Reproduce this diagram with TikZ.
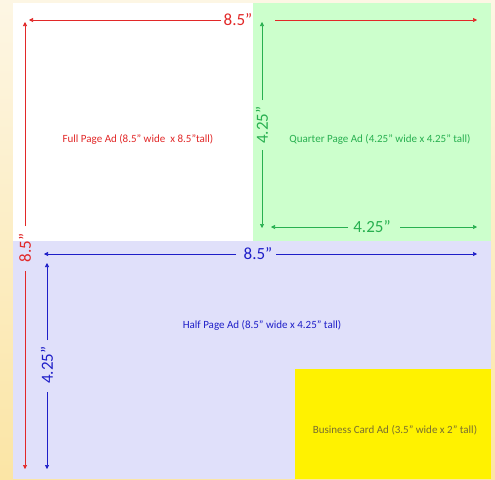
\documentclass[tikz,border=0pt]{standalone}
\usepackage{fontspec}
\setmainfont{Carlito}
\usetikzlibrary{arrows.meta}
\definecolor{cream1}{RGB}{253,246,228}
\definecolor{cream2}{RGB}{251,229,165}
\definecolor{qgreen}{RGB}{204,255,204}
\definecolor{hlav}{RGB}{224,224,250}
\definecolor{dred}{RGB}{226,40,40}
\definecolor{dgreen}{RGB}{40,176,80}
\definecolor{dblue}{RGB}{30,30,200}
\definecolor{bctext}{RGB}{120,110,50}
\tikzset{
  dim/.style={line width=0.6pt,-{Triangle[length=4pt,width=4pt]}},
  dimlabel/.style={inner sep=0pt,font=\fontsize{17}{17}\selectfont},
  adlabel/.style={inner sep=0pt,font=\fontsize{11}{11}\selectfont},
}
\begin{document}
\begin{tikzpicture}[x=1pt,y=-1pt]
\useasboundingbox (0,0) rectangle (495,479);
% background
\shade[top color=cream1,bottom color=cream2] (0,0) rectangle (495,479);
% areas
\fill[white] (13,3) rectangle (253,241);
\fill[qgreen] (253,3) rectangle (491,241);
\fill[hlav] (13,241) rectangle (491,479);
\fill[yellow] (295,369) rectangle (491,479);
% ad labels
\node[adlabel,text=dred] (full) at (138,139) {Full Page Ad (8.5” wide \ x 8.5”tall)};
\node[adlabel,text=dgreen] (quarter) at (380,139) {Quarter Page Ad (4.25” wide x 4.25” tall)};
\node[adlabel,text=dblue] (half) at (262,325) {Half Page Ad (8.5” wide x 4.25” tall)};
\node[adlabel,text=bctext] (bc) at (395,430) {Business Card Ad (3.5” wide x 2” tall)};
% red dimensions
\node[dimlabel,text=dred] (rtop) at (238,20) {8.5”};
\coordinate (rtopL) at (221,20); \coordinate (rtopLtip) at (29,20);
\coordinate (rtopR) at (275,20); \coordinate (rtopRtip) at (477,20);
\draw[dim,dred] (rtopL) -- (rtopLtip);
\draw[dim,dred] (rtopR) -- (rtopRtip);
\node[dimlabel,text=dred,rotate=90] (rleft) at (25,248) {8.5”};
\coordinate (rleftT) at (25,226); \coordinate (rleftTtip) at (25,22);
\coordinate (rleftB) at (25,271); \coordinate (rleftBtip) at (25,469);
\draw[dim,dred] (rleftT) -- (rleftTtip);
\draw[dim,dred] (rleftB) -- (rleftBtip);
% green dimensions
\node[dimlabel,text=dgreen,rotate=90] (gv) at (262,125) {4.25”};
\coordinate (gvT) at (262,100); \coordinate (gvTtip) at (262,22);
\coordinate (gvB) at (262,150); \coordinate (gvBtip) at (262,228);
\draw[dim,dgreen] (gvT) -- (gvTtip);
\draw[dim,dgreen] (gvB) -- (gvBtip);
\node[dimlabel,text=dgreen] (gh) at (372,227) {4.25”};
\coordinate (ghL) at (348,227); \coordinate (ghLtip) at (271,227);
\coordinate (ghR) at (400,227); \coordinate (ghRtip) at (477,227);
\draw[dim,dgreen] (ghL) -- (ghLtip);
\draw[dim,dgreen] (ghR) -- (ghRtip);
% blue dimensions
\node[dimlabel,text=dblue] (bh) at (258,254) {8.5”};
\coordinate (bhL) at (236,254); \coordinate (bhLtip) at (44,254);
\coordinate (bhR) at (276,254); \coordinate (bhRtip) at (477,254);
\draw[dim,dblue] (bhL) -- (bhLtip);
\draw[dim,dblue] (bhR) -- (bhRtip);
\node[dimlabel,text=dblue,rotate=90] (bv) at (47,365) {4.25”};
\coordinate (bvT) at (47,340); \coordinate (bvTtip) at (47,263);
\coordinate (bvB) at (47,392); \coordinate (bvBtip) at (47,469);
\draw[dim,dblue] (bvT) -- (bvTtip);
\draw[dim,dblue] (bvB) -- (bvBtip);
\end{tikzpicture}
\end{document}
